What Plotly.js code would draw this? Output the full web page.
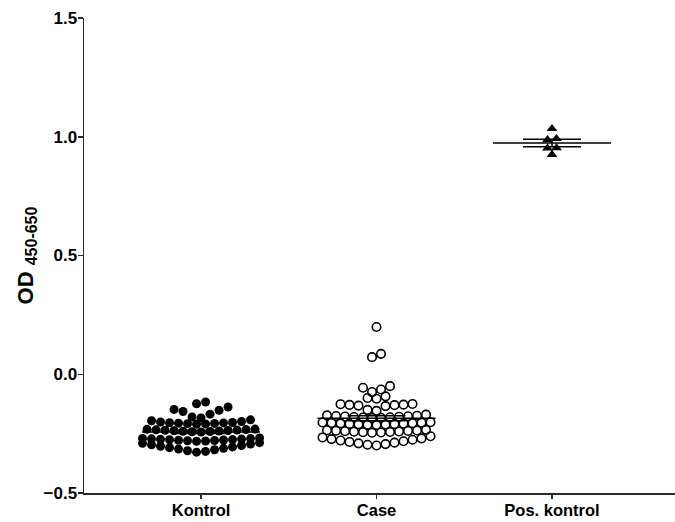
<!DOCTYPE html>
<html><head><meta charset="utf-8">
<script src="https://cdn.plot.ly/plotly-3.0.1.min.js"></script>
<style>html,body{margin:0;padding:0;background:#fff}</style>
</head><body><div id="chart" style="width:675px;height:522px"></div>
<script>
// ---- data ----
const categories = ['Kontrol', 'Case', 'Pos. kontrol'];
const yTickVals = [-0.5, 0.0, 0.5, 1.0, 1.5];
// values grouped in the horizontal rows of the dot plot (bottom to top)
const kontrolRows = [
  [-0.328,-0.325,-0.322,-0.318,-0.315,-0.312,-0.309,-0.306,-0.303,-0.300,-0.297,-0.294,-0.291,-0.288],
  [-0.282,-0.281,-0.280,-0.279,-0.278,-0.277,-0.276,-0.275,-0.274,-0.273,-0.272,-0.271,-0.270,-0.268],
  [-0.243,-0.242,-0.241,-0.240,-0.239,-0.238,-0.237,-0.236,-0.235,-0.234,-0.233,-0.232,-0.231],
  [-0.210,-0.209,-0.208,-0.207,-0.206,-0.205,-0.204,-0.203,-0.201,-0.199,-0.196,-0.192],
  [-0.184,-0.180,-0.168,-0.157,-0.152,-0.148,-0.138],
  [-0.124,-0.117]
];
const caseRows = [
  [-0.300,-0.297,-0.294,-0.291,-0.288,-0.285,-0.282,-0.279,-0.276,-0.273,-0.270,-0.266,-0.261],
  [-0.246,-0.245,-0.244,-0.243,-0.242,-0.241,-0.240,-0.239,-0.238,-0.237,-0.236,-0.234],
  [-0.214,-0.213,-0.212,-0.211,-0.210,-0.209,-0.208,-0.207,-0.206,-0.205,-0.204,-0.203,-0.202],
  [-0.184,-0.183,-0.182,-0.181,-0.180,-0.179,-0.178,-0.177,-0.176,-0.175,-0.173,-0.170],
  [-0.154,-0.150,-0.134,-0.132,-0.130,-0.129,-0.128,-0.126,-0.125],
  [-0.103,-0.100,-0.093],
  [-0.075,-0.064,-0.057,-0.050],
  [0.072, 0.086],
  [0.199]
];
const posRows = [
  [0.925],
  [0.952, 0.953],
  [0.987, 0.992],
  [1.034]
];

// ---- layout constants ----
const W = 675, H = 522;
const M = {l: 84, r: 0, t: 18, b: 29};
const X_RANGE = [-0.667, 2.701];
const pxPerUnit = (W - M.l - M.r) / (X_RANGE[1] - X_RANGE[0]);
const SLOT_PX = 9.0;        // horizontal spacing of dots in a row
const MEAN_HALF_PX = 59;    // half length of mean line
const SEM_HALF_PX = 29;     // half length of SEM lines
const FONT = 'Liberation Sans, Arial, Helvetica, sans-serif';
const AX = '#2a2a2a';

function swarm(rows, center) {
  const xs = [], ys = [];
  rows.forEach(row => {
    const v = [...row].sort((a, b) => a - b);
    const n = v.length;
    v.forEach((val, i) => {
      let k;
      if (n % 2 === 1) k = i === 0 ? 0 : (i % 2 === 1 ? -(i + 1) / 2 : i / 2);
      else { const j = Math.floor(i / 2) + 0.5; k = i % 2 === 0 ? -j : j; }
      xs.push(center + k * SLOT_PX / pxPerUnit);
      ys.push(val);
    });
  });
  return {xs, ys};
}
function stats(rows) {
  const a = rows.flat(); const n = a.length;
  const m = a.reduce((s, x) => s + x, 0) / n;
  const sd = Math.sqrt(a.reduce((s, x) => s + (x - m) * (x - m), 0) / (n - 1));
  return {m, sem: sd / Math.sqrt(n)};
}

const groups = [
  {rows: kontrolRows, symbol: 'circle', size: 9},
  {rows: caseRows, symbol: 'circle-open', size: 8.5},
  {rows: posRows, symbol: 'triangle-up', size: 9.5}
];

const traces = [];
const lx = [], ly = [];
groups.forEach((g, i) => {
  const s = swarm(g.rows, i);
  traces.push({
    type: 'scatter', mode: 'markers', x: s.xs, y: s.ys, name: categories[i],
    marker: {symbol: g.symbol, size: g.size, color: '#000', line: {color: '#000', width: g.symbol === 'circle-open' ? 1.6 : 0}},
    hoverinfo: 'y', cliponaxis: false
  });
  const st = stats(g.rows);
  const mh = MEAN_HALF_PX / pxPerUnit, sh = SEM_HALF_PX / pxPerUnit;
  lx.push(i - mh, i + mh, null, i - sh, i + sh, null, i - sh, i + sh, null, i, i, null);
  ly.push(st.m, st.m, null, st.m + st.sem, st.m + st.sem, null, st.m - st.sem, st.m - st.sem, null, st.m - st.sem, st.m + st.sem, null);
});
traces.push({type: 'scatter', mode: 'lines', x: lx, y: ly, line: {color: '#000', width: 1.5}, hoverinfo: 'skip', connectgaps: false});

const layout = {
  width: W, height: H, margin: M, showlegend: false,
  paper_bgcolor: '#fff', plot_bgcolor: '#fff',
  font: {family: FONT, color: '#000'},
  xaxis: {
    range: X_RANGE, tickvals: categories.map((_, i) => i), ticktext: categories,
    showgrid: false, zeroline: false, showline: true, linecolor: AX, linewidth: 1.5,
    ticks: 'outside', ticklen: 4, tickwidth: 1.5, tickcolor: AX, ticklabelstandoff: -2,
    tickfont: {family: FONT, size: 16.5, weight: 'bold', color: '#000'}, fixedrange: true
  },
  yaxis: {
    range: [-0.5, 1.5], tickvals: yTickVals, tickformat: '.1f',
    showgrid: false, zeroline: false, showline: true, linecolor: AX, linewidth: 1.5,
    ticks: 'outside', ticklen: 5, tickwidth: 1.5, tickcolor: AX, ticklabelstandoff: -3,
    tickfont: {family: FONT, size: 17, weight: 'bold', color: '#000'},
    title: {text: 'OD <sub><span style="font-size:16px">450-650</span></sub>', font: {family: FONT, size: 22, weight: 'bold', color: '#000'}, standoff: 4},
    fixedrange: true
  }
};
Plotly.newPlot('chart', traces, layout, {displayModeBar: false, staticPlot: true});
</script></body></html>
